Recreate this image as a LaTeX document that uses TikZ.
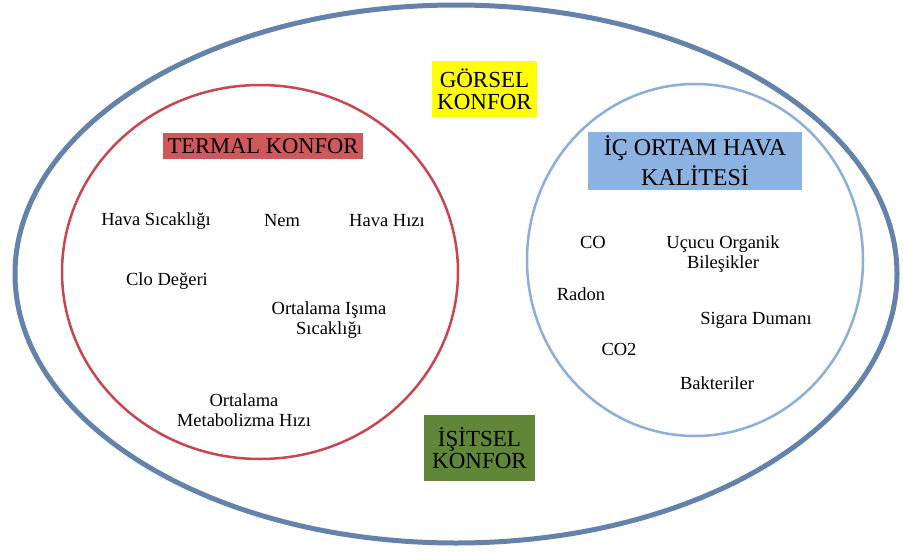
\documentclass[tikz,border=0pt]{standalone}
\usepackage{fontspec}
\setmainfont{Liberation Serif}
\definecolor{outerc}{RGB}{100,130,170}
\definecolor{redc}{RGB}{200,70,80}
\definecolor{bluec}{RGB}{140,175,215}
\definecolor{yelc}{RGB}{255,255,0}
\definecolor{redbox}{RGB}{208,88,92}
\definecolor{bluebox}{RGB}{140,178,226}
\definecolor{greenbox}{RGB}{95,135,55}
\begin{document}
\begin{tikzpicture}[x=1pt,y=-1pt,
  item/.style={font=\fontsize{18.5}{20}\selectfont, align=center, inner sep=0pt},
  title/.style={font=\fontsize{23}{22}\selectfont, align=center, inner sep=0pt}]
\useasboundingbox (0,0) rectangle (903,552);
\fill[white] (0,0) rectangle (903,552);
% ellipses
\draw[outerc, line width=5pt] (456,274) ellipse [x radius=441, y radius=269];
\draw[redc, line width=2.5pt] (260,272) ellipse [x radius=198, y radius=187];
\draw[bluec, line width=2.5pt] (695,260) ellipse [x radius=168, y radius=176];
% title boxes
\fill[yelc] (432,61) rectangle (537,117);
\node[title] (gorsel) at (484.5,89) {GÖRSEL\\KONFOR};
\fill[redbox] (163,133) rectangle (363,159);
\node[title, font=\fontsize{22.5}{24}\selectfont] (termal) at (263,146) {TERMAL KONFOR};
\fill[bluebox] (588,132) rectangle (802,190);
\node[title, font=\fontsize{24}{30}\selectfont] (ic) at (695,161) {İÇ ORTAM HAVA\\KALİTESİ};
\fill[greenbox] (424,415) rectangle (535,481);
\node[title] (isitsel) at (479.5,448) {İŞİTSEL\\KONFOR};
% thermal items
\node[item] (hs) at (156,221) {Hava Sıcaklığı};
\node[item] (nem) at (282,221) {Nem};
\node[item] (hh) at (387,221) {Hava Hızı};
\node[item] (clo) at (167,281) {Clo Değeri};
\node[item] (oi) at (329,320) {Ortalama Işıma\\Sıcaklığı};
\node[item] (om) at (244,410) {Ortalama\\Metabolizma Hızı};
% air quality items
\node[item] (co) at (593,242) {CO};
\node[item] (uob) at (723,254) {Uçucu Organik\\Bileşikler};
\node[item] (radon) at (581,294) {Radon};
\node[item] (sd) at (756,320) {Sigara Dumanı};
\node[item] (co2) at (619,349) {CO2};
\node[item] (bak) at (717,383) {Bakteriler};
\end{tikzpicture}
\end{document}
